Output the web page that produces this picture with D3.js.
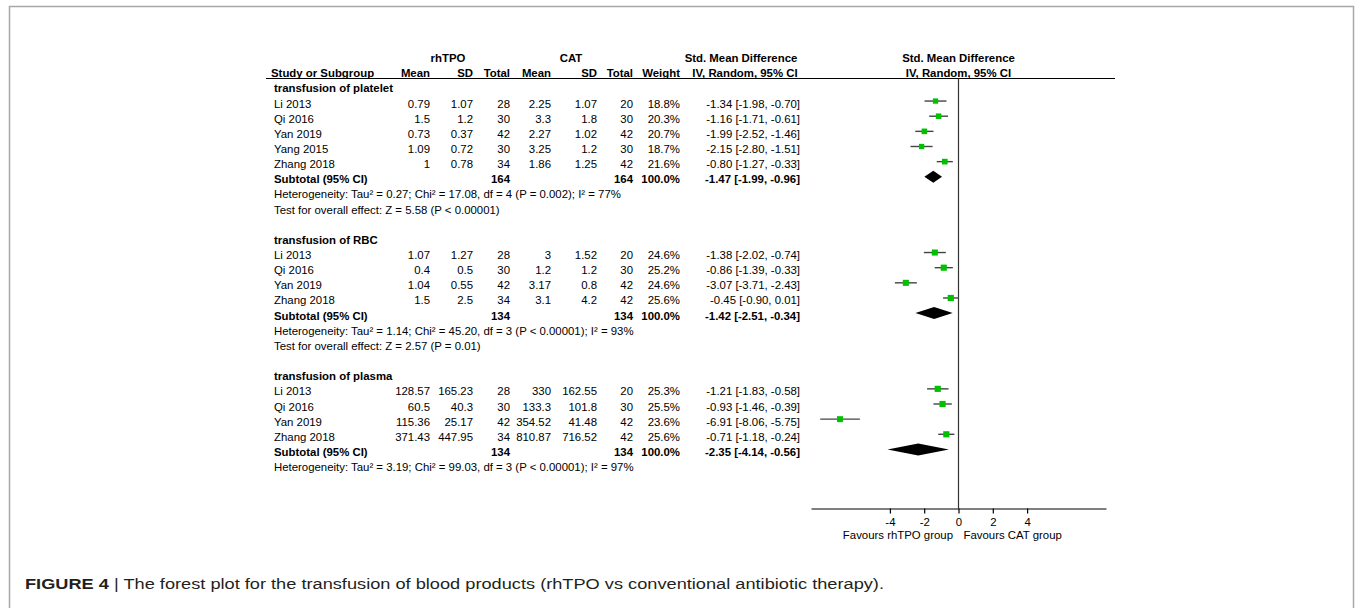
<!DOCTYPE html>
<html>
<head>
<meta charset="utf-8">
<script src="https://cdn.jsdelivr.net/npm/d3@7"></script>
<style>
  html, body { margin: 0; padding: 0; background: #fff; }
  svg { display: block; font-family: "Liberation Sans", Arial, sans-serif; }
  .t { font-size: 11.4px; fill: #000; }
  .b { font-weight: bold; }
</style>
</head>
<body>
<svg id="chart" width="1357" height="608"></svg>
<script>
// study rows: name, rhTPO mean, sd, n, CAT mean, sd, n, weight %, smd, lower, upper
const plateletRows = [
  ['Li 2013', 0.79, 1.07, 28, 2.25, 1.07, 20, 18.8, -1.34, -1.98, -0.70],
  ['Qi 2016', 1.5, 1.2, 30, 3.3, 1.8, 30, 20.3, -1.16, -1.71, -0.61],
  ['Yan 2019', 0.73, 0.37, 42, 2.27, 1.02, 42, 20.7, -1.99, -2.52, -1.46],
  ['Yang 2015', 1.09, 0.72, 30, 3.25, 1.2, 30, 18.7, -2.15, -2.80, -1.51],
  ['Zhang 2018', 1, 0.78, 34, 1.86, 1.25, 42, 21.6, -0.80, -1.27, -0.33]
];
const rbcRows = [
  ['Li 2013', 1.07, 1.27, 28, 3, 1.52, 20, 24.6, -1.38, -2.02, -0.74],
  ['Qi 2016', 0.4, 0.5, 30, 1.2, 1.2, 30, 25.2, -0.86, -1.39, -0.33],
  ['Yan 2019', 1.04, 0.55, 42, 3.17, 0.8, 42, 24.6, -3.07, -3.71, -2.43],
  ['Zhang 2018', 1.5, 2.5, 34, 3.1, 4.2, 42, 25.6, -0.45, -0.90, 0.01]
];
const plasmaRows = [
  ['Li 2013', 128.57, 165.23, 28, 330, 162.55, 20, 25.3, -1.21, -1.83, -0.58],
  ['Qi 2016', 60.5, 40.3, 30, 133.3, 101.8, 30, 25.5, -0.93, -1.46, -0.39],
  ['Yan 2019', 115.36, 25.17, 42, 354.52, 41.48, 42, 23.6, -6.91, -8.06, -5.75],
  ['Zhang 2018', 371.43, 447.95, 34, 810.87, 716.52, 42, 25.6, -0.71, -1.18, -0.24]
];
// subtotal: rhTPO n, CAT n, weight, smd, lower, upper
const plateletTotal = [164, 164, 100.0, -1.47, -1.99, -0.96];
const rbcTotal = [134, 134, 100.0, -1.42, -2.51, -0.34];
const plasmaTotal = [134, 134, 100.0, -2.35, -4.14, -0.56];

const groupNames = ['transfusion of platelet', 'transfusion of RBC', 'transfusion of plasma'];
const heterogeneity = [
  'Heterogeneity: Tau² = 0.27; Chi² = 17.08, df = 4 (P = 0.002); I² = 77%',
  'Heterogeneity: Tau² = 1.14; Chi² = 45.20, df = 3 (P < 0.00001); I² = 93%',
  'Heterogeneity: Tau² = 3.19; Chi² = 99.03, df = 3 (P < 0.00001); I² = 97%'
];
const overallEffect = [
  'Test for overall effect: Z = 5.58 (P < 0.00001)',
  'Test for overall effect: Z = 2.57 (P = 0.01)',
  null
];
const tickValues = [-4, -2, 0, 2, 4];

const groups = [
  { name: groupNames[0], rows: plateletRows, total: plateletTotal, het: heterogeneity[0], test: overallEffect[0] },
  { name: groupNames[1], rows: rbcRows, total: rbcTotal, het: heterogeneity[1], test: overallEffect[1] },
  { name: groupNames[2], rows: plasmaRows, total: plasmaTotal, het: heterogeneity[2], test: overallEffect[2] }
];

const svg = d3.select('#chart');

// frame + caption
svg.append('rect').attr('x', 9.5).attr('y', 6.5).attr('width', 1344).attr('height', 640)
  .attr('fill', 'none').attr('stroke', '#a8a8a8').attr('stroke-width', 1.5);

const cap = svg.append('text').attr('x', 25).attr('y', 588.5)
  .style('font-family', '"Liberation Sans", Arial, sans-serif').style('font-size', '15.5px').attr('fill', '#231f20');
cap.append('tspan').attr('font-weight', 'bold').text('FIGURE 4');
cap.append('tspan').text(' | The forest plot for the transfusion of blood products (rhTPO vs conventional antibiotic therapy).');
cap.attr('textLength', 859).attr('lengthAdjust', 'spacingAndGlyphs');

// scales
const x = d3.scaleLinear().domain([-8.6, 8.6]).range([811, 1106]);
const y = d3.scaleLinear().domain([0, 25]).range([85.9, 464.6]);
const size = d3.scaleSqrt().domain([0, 25.6]).range([0, 6.2]);

// column right edges (text)
const col = { mean1: 430, sd1: 473, n1: 510, mean2: 551, sd2: 597, n2: 633, w: 680, ci: 800 };
const textDy = 6.5;

function txt(xp, yp, s, anchor, bold) {
  svg.append('text').attr('class', 't' + (bold ? ' b' : ''))
    .attr('x', xp).attr('y', yp).attr('text-anchor', anchor || 'start').text(s);
}
function ciText(m, lo, hi) { return m.toFixed(2) + ' [' + lo.toFixed(2) + ', ' + hi.toFixed(2) + ']'; }

// headers
const h1 = y(-2) + textDy, h2 = y(-1) + textDy;
txt(448, h1, 'rhTPO', 'middle', true);
txt(571, h1, 'CAT', 'middle', true);
txt(741, h1, 'Std. Mean Difference', 'middle', true);
txt(x(0), h1, 'Std. Mean Difference', 'middle', true);
txt(271, h2, 'Study or Subgroup', 'start', true);
txt(col.mean1, h2, 'Mean', 'end', true);
txt(col.sd1, h2, 'SD', 'end', true);
txt(col.n1, h2, 'Total', 'end', true);
txt(col.mean2, h2, 'Mean', 'end', true);
txt(col.sd2, h2, 'SD', 'end', true);
txt(col.n2, h2, 'Total', 'end', true);
txt(col.w, h2, 'Weight', 'end', true);
txt(745, h2, 'IV, Random, 95% CI', 'middle', true);
txt(x(0), h2, 'IV, Random, 95% CI', 'middle', true);

svg.append('line').attr('x1', 266).attr('x2', 1115).attr('y1', 78.5).attr('y2', 78.5)
  .attr('stroke', '#000').attr('stroke-width', 1.2);

// zero line
svg.append('line').attr('x1', x(0)).attr('x2', x(0)).attr('y1', 78.5).attr('y2', 508.5)
  .attr('stroke', '#333').attr('stroke-width', 1.2);

// rows
let r = 0;
groups.forEach(g => {
  txt(274, y(r) + textDy, g.name, 'start', true);
  r++;
  g.rows.forEach(d => {
    const yy = y(r) + textDy;
    txt(274, yy, d[0]);
    txt(col.mean1, yy, String(d[1]), 'end');
    txt(col.sd1, yy, String(d[2]), 'end');
    txt(col.n1, yy, String(d[3]), 'end');
    txt(col.mean2, yy, String(d[4]), 'end');
    txt(col.sd2, yy, String(d[5]), 'end');
    txt(col.n2, yy, String(d[6]), 'end');
    txt(col.w, yy, d[7].toFixed(1) + '%', 'end');
    txt(col.ci, yy, ciText(d[8], d[9], d[10]), 'end');

    svg.append('line').attr('x1', x(d[9])).attr('x2', x(d[10]))
      .attr('y1', y(r)).attr('y2', y(r)).attr('stroke', '#444').attr('stroke-width', 1.4);
    const s = size(d[7]);
    svg.append('rect').attr('x', x(d[8]) - s / 2).attr('y', y(r) - s / 2)
      .attr('width', s).attr('height', s).attr('fill', '#00c000');
    r++;
  });
  const t = g.total, yy = y(r) + textDy;
  txt(274, yy, 'Subtotal (95% CI)', 'start', true);
  txt(col.n1, yy, String(t[0]), 'end', true);
  txt(col.n2, yy, String(t[1]), 'end', true);
  txt(col.w, yy, t[2].toFixed(1) + '%', 'end', true);
  txt(col.ci, yy, ciText(t[3], t[4], t[5]), 'end', true);
  const yc = y(r);
  svg.append('path')
    .attr('d', `M${x(t[4])},${yc} L${x(t[3])},${yc - 6} L${x(t[5])},${yc} L${x(t[3])},${yc + 6} Z`)
    .attr('fill', '#000');
  r++;
  txt(274, y(r) + textDy, g.het);
  r++;
  if (g.test) { txt(274, y(r) + textDy, g.test); r++; }
  r++;
});

// axis
const axis = d3.axisBottom(x).tickValues(tickValues).tickSize(5).tickSizeOuter(0)
  .tickFormat(d => String(d));
const ax = svg.append('g').attr('transform', 'translate(0,508.5)').call(axis);
ax.select('.domain').attr('stroke', '#000').attr('stroke-width', 1.2);
ax.selectAll('.tick line').attr('stroke', '#000').attr('stroke-width', 1.2);
ax.selectAll('.tick text').attr('class', 't').attr('fill', '#000').attr('dy', null).attr('y', 17)
  .style('font-family', '"Liberation Sans", Arial, sans-serif').style('font-size', '11.4px');

txt(x(0) - 5.5, 538.5, 'Favours rhTPO group', 'end');
txt(x(0) + 5, 538.5, 'Favours CAT group', 'start');
</script>
</body>
</html>
